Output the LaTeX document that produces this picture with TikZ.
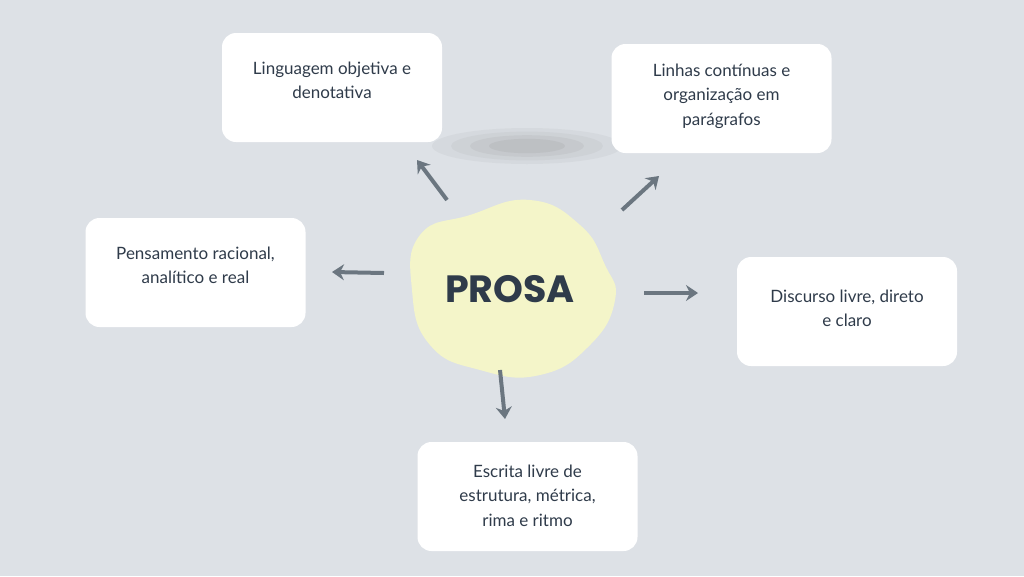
\documentclass[tikz,border=0pt]{standalone}
\usepackage{fontspec}
\setmainfont{Lato}
\newfontfamily\headfont{Poppins}
\definecolor{bg}{HTML}{DDE1E6}
\definecolor{txt}{HTML}{2F3B4A}
\definecolor{arr}{HTML}{6B7680}
\definecolor{blob}{HTML}{F4F5C9}
\usetikzlibrary{arrows.meta}
\begin{document}
\begin{tikzpicture}[x=1pt,y=-1pt,
  card/.style={fill=white,rounded corners=14pt,minimum width=220pt,minimum height=109pt,inner sep=0pt},
  lbl/.style={text=txt,font=\fontsize{17}{24.5}\selectfont,align=center,anchor=north},
  conn/.style={draw=arr,line width=4pt,-{Stealth[length=12pt,width=16pt]}}]
\useasboundingbox[fill=bg] (0,0) rectangle (1024,576);
% shadow
\foreach \o/\r in {0.08/1,0.08/0.8,0.1/0.6,0.12/0.4}
  \fill[gray,opacity=\o] (527,146) ellipse ({95*\r} and {18*\r});
\node[card] (c1) at (332,87.5) {};
\node[card] (c2) at (721.5,98.5) {};
\node[card] (c3) at (195.5,272.5) {};
\node[card] (c4) at (847,311.5) {};
\node[card] (c5) at (527.5,496.5) {};
\node[lbl] (t1) at (332,58) {Linguagem objetiva e\\denotativa};
\node[lbl] (t2) at (721.5,60) {Linhas contínuas e\\organização em\\parágrafos};
\node[lbl] (t3) at (195.5,243) {Pensamento racional,\\analítico e real};
\node[lbl] (t4) at (847,286) {Discurso livre, direto\\e claro};
\node[lbl] (t5) at (527.5,461) {Escrita livre de\\estrutura, métrica,\\rima e ritmo};
\fill[blob] plot[smooth cycle,tension=0.8] coordinates{(420,235) (470,215) (530,200) (580,225) (605,265) (615,300) (590,345) (540,375) (480,370) (430,345) (412,290)};
\node[text=txt,font=\headfont\bfseries\fontsize{38}{40}\selectfont] (p) at (510,289) {PROSA};
\coordinate (a1s) at (447,200); \coordinate (a1e) at (417,160);
\coordinate (a2s) at (622,210); \coordinate (a2e) at (659,176);
\coordinate (a3s) at (384,273); \coordinate (a3e) at (332,272);
\coordinate (a4s) at (644,293); \coordinate (a4e) at (698,293);
\coordinate (a5s) at (500,370); \coordinate (a5e) at (505,419);
\draw[conn] (a1s) -- (a1e);
\draw[conn] (a2s) -- (a2e);
\draw[conn] (a3s) -- (a3e);
\draw[conn] (a4s) -- (a4e);
\draw[conn] (a5s) -- (a5e);
\end{tikzpicture}
\end{document}
